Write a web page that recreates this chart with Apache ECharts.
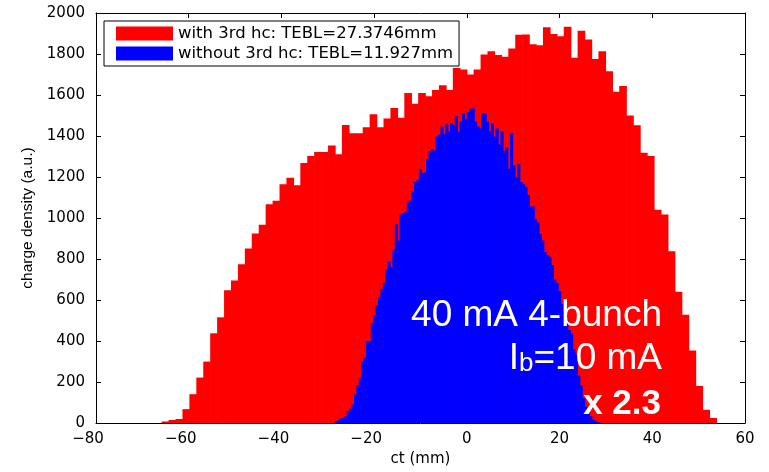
<!DOCTYPE html>
<html><head><meta charset="utf-8">
<script src="https://cdn.jsdelivr.net/npm/echarts@6/dist/echarts.min.js"></script>
<style>html,body{margin:0;padding:0;background:#fff}#c{width:769px;height:472px}</style>
</head><body><div id="c"></div>
<script>
const redName = 'with 3rd hc: TEBL=27.3746mm';
const blueName = 'without 3rd hc: TEBL=11.927mm';
const xMin = -80, xMax = 60, xStep = 20;
const yMin = 0, yMax = 2000, yStep = 200;
// red histogram: bin left edge of first bin, bin width (mm), counts
const redStart = -65.76;
const redWidth = 1.4955;
const redCounts = [
  8, 15, 20, 68, 141, 222, 300, 438, 516, 648,
  695, 775, 852, 925, 967, 1067, 1084, 1165, 1197, 1160,
  1268, 1303, 1322, 1322, 1354, 1311, 1454, 1414, 1414, 1443,
  1506, 1443, 1486, 1537, 1489, 1610, 1557, 1610, 1594, 1625,
  1648, 1625, 1732, 1725, 1700, 1724, 1798, 1814, 1795, 1787,
  1827, 1894, 1895, 1848, 1843, 1930, 1898, 1887, 1933, 1782,
  1914, 1871, 1776, 1814, 1716, 1616, 1644, 1500, 1452, 1319,
  1303, 1041, 1017, 838, 641, 529, 354, 181, 65, 25
];
// blue histogram
const blueStart = -28.42;
const blueWidth = 0.518;
const blueCounts = [
  10, 15, 22, 25, 33, 60, 70, 90, 140, 185,
  219, 300, 319, 398, 400, 486, 525, 573, 613, 652,
  684, 748, 787, 760, 843, 970, 890, 1017, 1025, 1030,
  1081, 1085, 1129, 1176, 1184, 1240, 1219, 1222, 1287, 1327,
  1335, 1330, 1398, 1406, 1446, 1410, 1457, 1422, 1462, 1454,
  1498, 1420, 1470, 1510, 1482, 1517, 1533, 1535, 1470, 1446,
  1438, 1510, 1510, 1470, 1422, 1462, 1398, 1438, 1359, 1422,
  1327, 1343, 1240, 1414, 1256, 1200, 1263, 1176, 1165, 1152,
  1113, 1057, 1057, 994, 978, 922, 890, 835, 819, 811,
  771, 700, 684, 644, 581, 541, 502, 454, 438, 359,
  335, 232, 184, 121, 81, 57, 33, 17, 10, 5
];
const annot1 = '40 mA 4-bunch';
const annot2a = 'I', annot2b = 'b', annot2c = '=10 mA';
const annot3 = 'x 2.3';

function bins(start, width, counts) {
  return counts.map((v, i) => [start + i * width, start + (i + 1) * width, v]);
}
function renderBar(params, api) {
  const a = api.coord([api.value(0), api.value(2)]);
  const b = api.coord([api.value(1), 0]);
  const c = api.visual('color');
  return { type: 'rect', shape: { x: a[0] - 0.35, y: a[1], width: b[0] - a[0] + 0.7, height: b[1] - a[1] },
    style: { fill: c } };
}
const tickFont = { fontFamily: 'DejaVu Sans', fontSize: 15, color: '#000' };
const xFmt = v => v < 0 ? '{neg|' + String(v).replace('-', '\u2212') + '}' : '{pos|' + v + '}';
const plain = v => String(v);
function xAxisCfg(pos, main) {
  return {
    type: 'value', position: pos, min: xMin, max: xMax, interval: xStep,
    axisLine: { show: true, onZero: false, lineStyle: { color: '#000', width: 1 } },
    axisTick: { show: true, inside: true, length: 5, lineStyle: { color: '#000' } },
    axisLabel: Object.assign({ show: main, margin: 9, formatter: xFmt,
      rich: { neg: { fontFamily: 'DejaVu Sans', fontSize: 15, color: '#000', padding: [0, 16, 0, 0] },
              pos: { fontFamily: 'DejaVu Sans', fontSize: 15, color: '#000' } } }, tickFont),
    splitLine: { show: false },
    name: main ? 'ct (mm)' : '', nameLocation: 'middle', nameGap: 24,
    nameTextStyle: { fontFamily: 'DejaVu Sans', fontSize: 15, color: '#000' }
  };
}
function yAxisCfg(pos, main) {
  return {
    type: 'value', position: pos, min: yMin, max: yMax, interval: yStep,
    axisLine: { show: true, onZero: false, lineStyle: { color: '#000', width: 1 } },
    axisTick: { show: true, inside: true, length: 5, lineStyle: { color: '#000' } },
    axisLabel: Object.assign({ show: main, margin: 11, formatter: plain }, tickFont),
    splitLine: { show: false },
    name: main ? 'charge density (a.u.)' : '', nameLocation: 'middle', nameGap: 54,
    nameTextStyle: { fontFamily: 'Liberation Sans', fontSize: 15.5, color: '#000' }
  };
}
const chart = echarts.init(document.getElementById('c'), null, { renderer: 'canvas' });
chart.setOption({
  animation: false,
  backgroundColor: '#fff',
  grid: { left: 96, right: 24, top: 13, bottom: 40 },
  xAxis: [xAxisCfg('bottom', true), xAxisCfg('top', false)],
  yAxis: [yAxisCfg('left', true), yAxisCfg('right', false)],
  legend: {
    orient: 'vertical', left: 104, top: 21, icon: 'rect',
    itemWidth: 57, itemHeight: 14, itemGap: 3,
    padding: [4, 6, 4, 12], borderColor: '#000', borderWidth: 1, borderRadius: 0,
    backgroundColor: '#fff',
    textStyle: { fontFamily: 'DejaVu Sans', fontSize: 16.5, color: '#000', lineHeight: 15 },
    itemStyle: { borderWidth: 0 },
    data: [redName, blueName]
  },
  series: [
    { name: redName, type: 'custom', renderItem: renderBar, clip: true,
      itemStyle: { color: '#ff0000' }, encode: { x: [0, 1], y: 2 },
      data: bins(redStart, redWidth, redCounts) },
    { name: blueName, type: 'custom', renderItem: renderBar, clip: true,
      itemStyle: { color: '#0000ff' }, encode: { x: [0, 1], y: 2 },
      data: bins(blueStart, blueWidth, blueCounts) }
  ],
  graphic: [
    { type: 'text', right: 107, top: 297, z: 100,
      style: { text: annot1, fill: '#fff', font: '37px "Liberation Sans", Arial, sans-serif' } },
    { type: 'text', right: 107, top: 340, z: 100,
      style: { text: '{n|' + annot2a + '}{s|' + annot2b + '}{n|' + annot2c + '}', fill: '#fff',
        rich: {
          n: { fontFamily: 'Liberation Sans', fontSize: 37, fill: '#fff', verticalAlign: 'bottom', lineHeight: 37 },
          s: { fontFamily: 'Liberation Sans', fontSize: 26, fill: '#fff', verticalAlign: 'bottom', lineHeight: 12 }
        } } },
    { type: 'text', right: 108, top: 387, z: 100,
      style: { text: annot3, fill: '#fff', font: 'bold 35px "Liberation Sans", Arial, sans-serif' } }
  ]
});
</script></body></html>
